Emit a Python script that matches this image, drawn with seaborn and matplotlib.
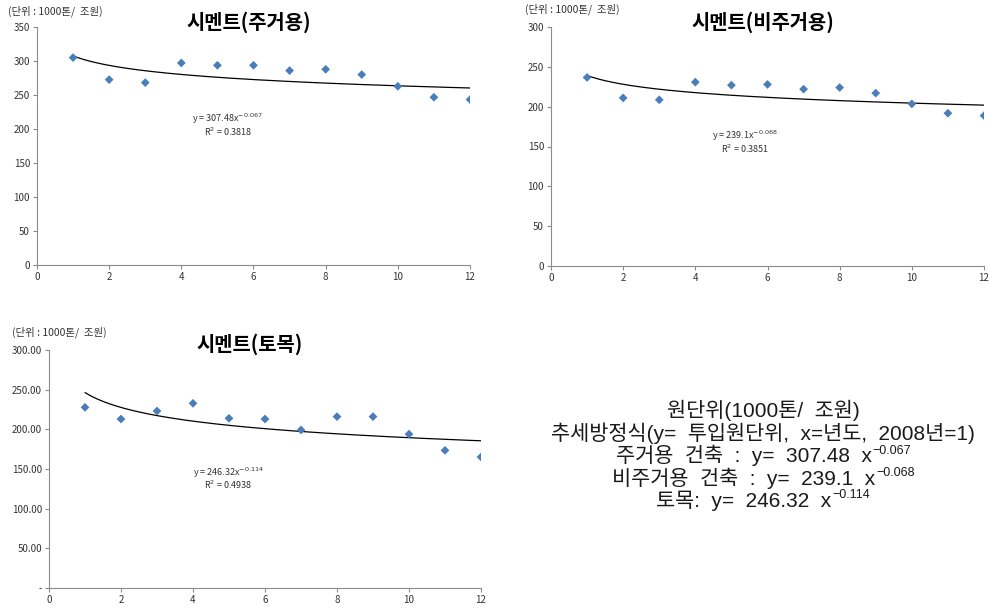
import numpy as np
import pandas as pd
import matplotlib
matplotlib.use("Agg")
import matplotlib.pyplot as plt
from matplotlib.ticker import FixedLocator, FuncFormatter
import seaborn as sns

sns.set_theme(style="white")
plt.rcParams["font.family"] = ["Noto Sans CJK KR", "DejaVu Sans"]
plt.rcParams["axes.unicode_minus"] = True

# Year index (2008 = 1)
years = list(range(1, 13))

# Cement input per unit (1000 t / trillion won)
cement_residential = [305, 272.6, 268.2, 297.1, 293.7, 293.7, 285.9, 287.8, 280.0, 262.8, 246.7, 243.3]
cement_nonresidential = [236.7, 211.0, 208.6, 230.8, 227.0, 227.9, 222.0, 224.0, 217.0, 203.5, 191.8, 188.8]
cement_civil = [227.7, 213.0, 223.1, 232.8, 213.9, 213.0, 199.2, 216.0, 216.0, 194.0, 173.5, 165.1]

# Power trend fits y = a * x^b
fit_residential = (307.48, -0.067, 0.3818)
fit_nonresidential = (239.1, -0.068, 0.3851)
fit_civil = (246.32, -0.114, 0.4938)

titles = ["시멘트(주거용)", "시멘트(비주거용)", "시멘트(토목)"]
unit_label = "(단위 : 1000톤/  조원)"

W, H = 993, 609
fig = plt.figure(figsize=(W / 100, H / 100), dpi=100)


def px(x, y):
    return x / W, 1 - y / H


def axes_box(left, top, right, bottom):
    return [left / W, 1 - bottom / H, (right - left) / W, (bottom - top) / H]


def minus(v):
    return str(v).replace("-", "\u2212")


marker_color = "#4A7EBB"
panels = [
    dict(box=axes_box(37, 27, 470, 265), values=cement_residential, fit=fit_residential,
         ymax=350, fmt=lambda v, p: f"{v:.0f}", title=titles[0], title_xy=(249, 22),
         unit_xy=(8, 11), eq_xy=(227, 119), r2_xy=(228, 132)),
    dict(box=axes_box(551, 27, 984, 266), values=cement_nonresidential, fit=fit_nonresidential,
         ymax=300, fmt=lambda v, p: f"{v:.0f}", title=titles[1], title_xy=(763, 22),
         unit_xy=(525, 9), eq_xy=(745, 136), r2_xy=(745, 149)),
    dict(box=axes_box(49, 350, 481, 588), values=cement_civil, fit=fit_civil,
         ymax=300, fmt=lambda v, p: "-" if v == 0 else f"{v:.2f}", title=titles[2],
         title_xy=(250, 344), unit_xy=(12, 332), eq_xy=(228, 473), r2_xy=(228, 485)),
]

for p in panels:
    ax = fig.add_axes(p["box"])
    a, b, r2 = p["fit"]
    df = pd.DataFrame({"x": years, "y": p["values"]})
    xs = np.linspace(1, 12, 200)
    trend = pd.DataFrame({"x": xs, "y": a * xs ** b})
    sns.lineplot(data=trend, x="x", y="y", ax=ax, color="black", linewidth=0.9)
    sns.scatterplot(data=df, x="x", y="y", ax=ax, marker="D", s=20,
                    color=marker_color, edgecolor="none", zorder=3)
    ax.set_xlim(0, 12)
    ax.set_ylim(0, p["ymax"])
    ax.xaxis.set_major_locator(FixedLocator(range(0, 13, 2)))
    ax.yaxis.set_major_locator(FixedLocator(range(0, p["ymax"] + 1, 50)))
    ax.yaxis.set_major_formatter(FuncFormatter(p["fmt"]))
    ax.set_xlabel("")
    ax.set_ylabel("")
    for s in ["top", "right"]:
        ax.spines[s].set_visible(False)
    for s in ["left", "bottom"]:
        ax.spines[s].set_color("#8c8c8c")
        ax.spines[s].set_linewidth(0.8)
    ax.tick_params(axis="both", direction="out", length=3, width=0.8, color="#8c8c8c",
                   labelsize=7, labelcolor="#333333", pad=2, left=True, bottom=True)
    ax.patch.set_alpha(0)

    fig.text(*px(*p["title_xy"]), p["title"], ha="center", va="center",
             fontsize=14.3, fontweight="bold", color="black")
    fig.text(*px(*p["unit_xy"]), unit_label, ha="left", va="center",
             fontsize=7.5, color="#333333")
    fig.text(*px(*p["eq_xy"]), f"y = {a}x$^{{{b}}}$".replace("-", "−"),
             ha="center", va="center", fontsize=6.5, color="#333333")
    fig.text(*px(*p["r2_xy"]), f"R$^2$ = {r2}", ha="center", va="center",
             fontsize=6.5, color="#333333")

# Summary block: base text plus optional superscript exponent
summary_lines = [
    ("원단위(1000톤/  조원)", None),
    ("추세방정식(y=  투입원단위,  x=년도,  2008년=1)", None),
    (f"주거용  건축  :  y=  {fit_residential[0]}  x", minus(fit_residential[1])),
    (f"비주거용  건축  :  y=  {fit_nonresidential[0]}  x", minus(fit_nonresidential[1])),
    (f"토목:  y=  {fit_civil[0]}  x", minus(fit_civil[1])),
]
baselines = [417, 440, 462.5, 485, 507]
summary_family = ["Liberation Sans", "Noto Sans CJK KR"]
center_x = 763
renderer = fig.canvas.get_renderer()
for (base, sup), yb in zip(summary_lines, baselines):
    t = fig.text(0, 0, base, ha="left", va="baseline", fontsize=15,
                 family=summary_family, color="#1a1a1a")
    wb = t.get_window_extent(renderer).width
    ws = 0
    s = None
    if sup is not None:
        s = fig.text(0, 0, sup, ha="left", va="baseline", fontsize=9,
                     family=summary_family, color="#1a1a1a")
        ws = s.get_window_extent(renderer).width
    x0 = center_x - (wb + ws) / 2
    t.set_position(px(x0, yb))
    if s is not None:
        s.set_position(px(x0 + wb + 1, yb - 9))

fig.savefig("out.png", dpi=100)
